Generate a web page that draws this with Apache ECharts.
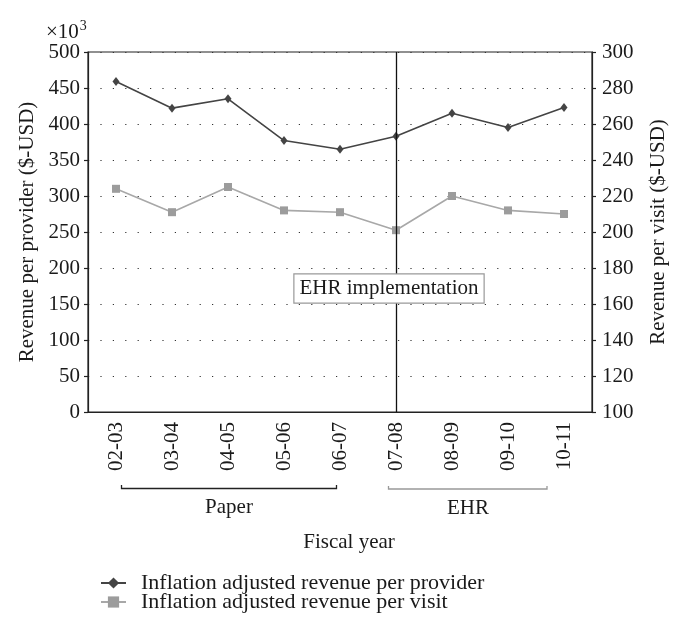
<!DOCTYPE html>
<html>
<head>
<meta charset="utf-8">
<script src="https://cdn.jsdelivr.net/npm/echarts@6/dist/echarts.min.js"></script>
<style>
html,body{margin:0;padding:0;background:#fff;}
#chart{width:680px;height:627px;}
</style>
</head>
<body>
<div id="chart"></div>
<script>
const categories = ['02-03','03-04','04-05','05-06','06-07','07-08','08-09','09-10','10-11'];
const providerRevenue = [459, 422, 435, 377, 365, 383, 415, 395, 423];
const visitRevenue = [224, 211, 225, 212, 211, 201, 220, 212, 210];
const leftTicks = { min: 0, max: 500, interval: 50 };
const rightTicks = { min: 100, max: 300, interval: 20 };

const FONT = '"Liberation Serif", "Times New Roman", serif';
const TXT = '#1a1a1a';

const chart = echarts.init(document.getElementById('chart'), null, { renderer: 'canvas' });

const option = {
  backgroundColor: '#fff',
  animation: false,
  textStyle: { fontFamily: FONT, color: TXT },
  grid: { left: 88, right: 88, top: 52, bottom: 215, show: true, borderColor: '#222', borderWidth: 1.2, backgroundColor: 'transparent' },
  legend: {
    orient: 'vertical',
    left: 100,
    top: 572,
    padding: 0,
    itemWidth: 25,
    itemHeight: 14,
    itemGap: -3,
    textStyle: { fontFamily: FONT, fontSize: 22, color: TXT, lineHeight: 19, padding: [0, 0, 0, 10] },
    data: ['Inflation adjusted revenue per provider', 'Inflation adjusted revenue per visit']
  },
  xAxis: {
    type: 'category',
    data: categories,
    boundaryGap: true,
    axisLine: { lineStyle: { color: '#222', width: 1.2 } },
    axisTick: { alignWithLabel: true, length: 5, lineStyle: { color: '#222', width: 1.2 } },
    axisLabel: { rotate: 90, margin: 10, fontFamily: FONT, fontSize: 21, color: TXT }
  },
  yAxis: [
    {
      type: 'value', position: 'left',
      min: leftTicks.min, max: leftTicks.max, interval: leftTicks.interval,
      name: 'Revenue per provider ($-USD)', nameLocation: 'middle', nameGap: 50,
      nameTextStyle: { fontFamily: FONT, fontSize: 21, color: TXT },
      axisLine: { show: true, lineStyle: { color: '#222', width: 1.2 } },
      axisTick: { show: true, length: 4, lineStyle: { color: '#222', width: 1.2 } },
      axisLabel: { margin: 8, fontFamily: FONT, fontSize: 21, color: TXT },
      splitLine: { show: true, lineStyle: { color: '#333', width: 1.2, type: [1.2, 11.2] } }
    },
    {
      type: 'value', position: 'right',
      min: rightTicks.min, max: rightTicks.max, interval: rightTicks.interval,
      name: 'Revenue per visit ($-USD)', nameLocation: 'middle', nameGap: 56,
      nameTextStyle: { fontFamily: FONT, fontSize: 21, color: TXT },
      axisLine: { show: true, lineStyle: { color: '#222', width: 1.2 } },
      axisTick: { show: true, length: 4, lineStyle: { color: '#222', width: 1.2 } },
      axisLabel: { margin: 10, fontFamily: FONT, fontSize: 21, color: TXT },
      splitLine: { show: false }
    }
  ],
  series: [
    {
      name: 'Inflation adjusted revenue per provider',
      type: 'line', yAxisIndex: 0,
      data: providerRevenue,
      symbol: 'diamond', symbolSize: [7, 9],
      lineStyle: { color: '#444', width: 1.6 },
      itemStyle: { color: '#444' },
      markLine: {
        silent: true, symbol: 'none',
        label: { show: false },
        lineStyle: { color: '#111', width: 1.3, type: 'solid' },
        data: [{ xAxis: '07-08' }]
      },
      z: 3
    },
    {
      name: 'Inflation adjusted revenue per visit',
      type: 'line', yAxisIndex: 1,
      data: visitRevenue,
      symbol: 'rect', symbolSize: 8,
      lineStyle: { color: '#a8a8a8', width: 1.6 },
      itemStyle: { color: '#9c9c9c' },
      z: 3
    }
  ],
  graphic: [
    {
      type: 'text', left: 46, top: 19, z: 10,
      style: {
        text: '{a|×10}{b|3}',
        rich: {
          a: { fontFamily: FONT, fontSize: 21, fill: TXT, verticalAlign: 'bottom', lineHeight: 24 },
          b: { fontFamily: FONT, fontSize: 14, fill: TXT, verticalAlign: 'top', lineHeight: 24, padding: [0, 0, 14, 1] }
        }
      }
    },
    {
      type: 'text', x: 389, y: 288.5, z: 10,
      style: {
        text: 'EHR implementation',
        font: '21px ' + FONT, fill: TXT,
        align: 'center', verticalAlign: 'middle',
        backgroundColor: '#fff', borderColor: '#999', borderWidth: 1.2,
        padding: [4, 5, 3, 5]
      }
    },
    {
      type: 'polyline', z: 10,
      shape: { points: [[121.5, 485], [121.5, 488.5], [336.5, 488.5], [336.5, 485]] },
      style: { stroke: '#222', lineWidth: 1.3, fill: null }
    },
    {
      type: 'polyline', z: 10,
      shape: { points: [[388.5, 486], [388.5, 489], [547, 489], [547, 486]] },
      style: { stroke: '#999', lineWidth: 1.3, fill: null }
    },
    {
      type: 'text', x: 229, y: 507, z: 10,
      style: { text: 'Paper', font: '21px ' + FONT, fill: TXT, align: 'center', verticalAlign: 'middle' }
    },
    {
      type: 'text', x: 468, y: 508, z: 10,
      style: { text: 'EHR', font: '21px ' + FONT, fill: TXT, align: 'center', verticalAlign: 'middle' }
    },
    {
      type: 'text', x: 349, y: 542, z: 10,
      style: { text: 'Fiscal year', font: '21px ' + FONT, fill: TXT, align: 'center', verticalAlign: 'middle' }
    }
  ]
};

chart.setOption(option);
</script>
</body>
</html>
